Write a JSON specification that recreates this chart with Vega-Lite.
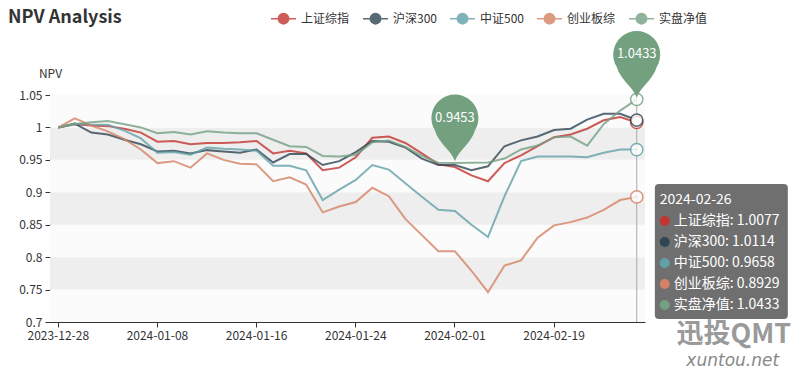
{
  "$schema": "https://vega.github.io/schema/vega-lite/v6.json",
  "autosize": {"type": "none"},
  "width": 595,
  "height": 227,
  "padding": {"left": 50, "top": 95, "right": 159, "bottom": 57},
  "background": "white",
  "config": {
    "font": "Noto Sans CJK SC",
    "view": {"stroke": null},
    "axisX": {"labelAngle": 0, "labelAlign": "center", "labelBaseline": "top", "tickOffset": -8.265, "title": null, "tickSize": 5, "labelPadding": 3, "labelOverlap": false, "labelFlush": false, "domainColor": "#333333", "tickColor": "#333333", "labelColor": "#333333", "labelFontSize": 12, "grid": false},
    "axisY": {"labelAngle": 0, "labelAlign": "right", "labelBaseline": "middle", "tickSize": 5, "labelPadding": 3, "labelOverlap": false, "labelFlush": false, "domainColor": "#333333", "tickColor": "#333333", "labelColor": "#333333", "labelFontSize": 12, "grid": false}
  },
  "title": {"text": "NPV Analysis", "anchor": "start", "frame": "group", "fontSize": 18, "fontWeight": "bold", "color": "#333333", "font": "Noto Sans CJK SC", "dx": -42, "dy": 26},
  "datasets": {
    "npv": [
      {"date": "2023-12-28", "上证综指": 1, "沪深300": 1, "中证500": 1, "创业板综": 1, "实盘净值": 1},
      {"date": "2023-12-29", "上证综指": 1.005, "沪深300": 1.006, "中证500": 1.006, "创业板综": 1.014, "实盘净值": 1.005},
      {"date": "2024-01-02", "上证综指": 1.003, "沪深300": 0.992, "中证500": 1.004, "创业板综": 1.003, "实盘净值": 1.008},
      {"date": "2024-01-03", "上证综指": 1.002, "沪深300": 0.989, "中证500": 1.004, "创业板综": 0.994, "实盘净值": 1.010},
      {"date": "2024-01-04", "上证综指": 0.998, "沪深300": 0.981, "中证500": 0.995, "创业板综": 0.982, "实盘净值": 1.005},
      {"date": "2024-01-05", "上证综指": 0.992, "沪深300": 0.974, "中证500": 0.983, "创业板综": 0.966, "实盘净值": 1.000},
      {"date": "2024-01-08", "上证综指": 0.978, "沪深300": 0.963, "中证500": 0.961, "创业板综": 0.945, "实盘净值": 0.991},
      {"date": "2024-01-09", "上证综指": 0.979, "沪深300": 0.964, "中证500": 0.962, "创业板综": 0.948, "实盘净值": 0.993},
      {"date": "2024-01-10", "上证综指": 0.974, "沪深300": 0.960, "中证500": 0.958, "创业板综": 0.938, "实盘净值": 0.989},
      {"date": "2024-01-11", "上证综指": 0.976, "沪深300": 0.965, "中证500": 0.969, "创业板综": 0.960, "实盘净值": 0.994},
      {"date": "2024-01-12", "上证综指": 0.976, "沪深300": 0.963, "中证500": 0.967, "创业板综": 0.950, "实盘净值": 0.992},
      {"date": "2024-01-15", "上证综指": 0.977, "沪深300": 0.961, "中证500": 0.966, "创业板综": 0.944, "实盘净值": 0.991},
      {"date": "2024-01-16", "上证综指": 0.979, "沪深300": 0.966, "中证500": 0.964, "创业板综": 0.943, "实盘净值": 0.991},
      {"date": "2024-01-17", "上证综指": 0.960, "沪深300": 0.946, "中证500": 0.941, "创业板综": 0.917, "实盘净值": 0.981},
      {"date": "2024-01-18", "上证综指": 0.964, "沪深300": 0.959, "中证500": 0.941, "创业板综": 0.923, "实盘净值": 0.971},
      {"date": "2024-01-19", "上证综指": 0.960, "沪深300": 0.959, "中证500": 0.934, "创业板综": 0.912, "实盘净值": 0.970},
      {"date": "2024-01-22", "上证综指": 0.934, "沪深300": 0.942, "中证500": 0.888, "创业板综": 0.869, "实盘净值": 0.956},
      {"date": "2024-01-23", "上证综指": 0.938, "沪深300": 0.948, "中证500": 0.904, "创业板综": 0.878, "实盘净值": 0.955},
      {"date": "2024-01-24", "上证综指": 0.954, "沪深300": 0.962, "中证500": 0.919, "创业板综": 0.885, "实盘净值": 0.958},
      {"date": "2024-01-25", "上证综指": 0.984, "沪深300": 0.979, "中证500": 0.942, "创业板综": 0.907, "实盘净值": 0.977},
      {"date": "2024-01-26", "上证综指": 0.986, "沪深300": 0.978, "中证500": 0.935, "创业板综": 0.894, "实盘净值": 0.980},
      {"date": "2024-01-29", "上证综指": 0.976, "沪深300": 0.969, "中证500": 0.914, "创业板综": 0.859, "实盘净值": 0.970},
      {"date": "2024-01-30", "上证综指": 0.960, "沪深300": 0.952, "中证500": 0.893, "创业板综": 0.834, "实盘净值": 0.956},
      {"date": "2024-01-31", "上证综指": 0.943, "沪深300": 0.942, "中证500": 0.873, "创业板综": 0.809, "实盘净值": 0.9455},
      {"date": "2024-02-01", "上证综指": 0.939, "沪深300": 0.942, "中证500": 0.871, "创业板综": 0.809, "实盘净值": 0.9453},
      {"date": "2024-02-02", "上证综指": 0.926, "沪深300": 0.934, "中证500": 0.850, "创业板综": 0.779, "实盘净值": 0.9455},
      {"date": "2024-02-05", "上证综指": 0.917, "沪深300": 0.940, "中证500": 0.831, "创业板综": 0.746, "实盘净值": 0.9458},
      {"date": "2024-02-06", "上证综指": 0.945, "沪深300": 0.971, "中证500": 0.894, "创业板综": 0.787, "实盘净值": 0.952},
      {"date": "2024-02-07", "上证综指": 0.957, "沪深300": 0.980, "中证500": 0.948, "创业板综": 0.795, "实盘净值": 0.966},
      {"date": "2024-02-08", "上证综指": 0.971, "沪深300": 0.986, "中证500": 0.955, "创业板综": 0.830, "实盘净值": 0.972},
      {"date": "2024-02-19", "上证综指": 0.985, "沪深300": 0.996, "中证500": 0.955, "创业板综": 0.849, "实盘净值": 0.985},
      {"date": "2024-02-20", "上证综指": 0.989, "沪深300": 0.998, "中证500": 0.955, "创业板综": 0.854, "实盘净值": 0.986},
      {"date": "2024-02-21", "上证综指": 0.998, "沪深300": 1.012, "中证500": 0.954, "创业板综": 0.861, "实盘净值": 0.972},
      {"date": "2024-02-22", "上证综指": 1.011, "沪深300": 1.021, "中证500": 0.961, "创业板综": 0.873, "实盘净值": 1.005},
      {"date": "2024-02-23", "上证综指": 1.016, "沪深300": 1.021, "中证500": 0.966, "创业板综": 0.888, "实盘净值": 1.026},
      {"date": "2024-02-26", "上证综指": 1.0077, "沪深300": 1.0114, "中证500": 0.9658, "创业板综": 0.8929, "实盘净值": 1.0433}
    ],
    "bands": [
      {"lo": 0.7, "hi": 0.75, "shade": "light"},
      {"lo": 0.75, "hi": 0.8, "shade": "dark"},
      {"lo": 0.8, "hi": 0.85, "shade": "light"},
      {"lo": 0.85, "hi": 0.9, "shade": "dark"},
      {"lo": 0.9, "hi": 0.95, "shade": "light"},
      {"lo": 0.95, "hi": 1.0, "shade": "dark"},
      {"lo": 1.0, "hi": 1.05, "shade": "light"}
    ],
    "tipHead": [{"date": "2024-02-26"}]
  },
  "layer": [
    {
      "layer": [
        {
          "data": {"name": "bands"},
          "mark": {"type": "rect"},
          "encoding": {
            "y": {"field": "lo", "type": "quantitative",
              "scale": {"domain": [0.7, 1.05], "nice": false, "zero": false},
              "axis": {"title": "NPV", "titleAngle": 0, "titleX": 0, "titleY": -22, "titleAlign": "center", "titleBaseline": "middle", "titleFontWeight": "normal", "titleFontSize": 12, "titleColor": "#333333",
                "values": [0.7, 0.75, 0.8, 0.85, 0.9, 0.95, 1.0, 1.05], "format": ".3~g"}},
            "y2": {"field": "hi"},
            "fill": {"condition": {"test": "datum.shade == 'dark'", "value": "#eeeeee"}, "value": "#fbfbfb"}
          }
        },
        {
          "data": {"name": "tipHead"},
          "mark": {"type": "rule", "color": "#aaaaaa", "strokeWidth": 1},
          "encoding": {
            "x": {"field": "date", "type": "ordinal",
              "axis": {"values": ["2023-12-28", "2024-01-08", "2024-01-16", "2024-01-24", "2024-02-01", "2024-02-19"]}}
          }
        },
        {
          "data": {"name": "npv"},
          "transform": [{"fold": ["上证综指", "沪深300", "中证500", "创业板综", "实盘净值"], "as": ["series", "value"]}],
          "mark": {"type": "line", "strokeWidth": 2, "strokeOpacity": 0.8},
          "encoding": {
            "x": {"field": "date", "type": "ordinal",
              "scale": {"type": "band", "paddingInner": 0, "paddingOuter": 0},
              "axis": {"values": ["2023-12-28", "2024-01-08", "2024-01-16", "2024-01-24", "2024-02-01", "2024-02-19"]}},
            "y": {"field": "value", "type": "quantitative",
              "axis": {"title": "NPV", "titleAngle": 0, "titleX": 0, "titleY": -22, "titleAlign": "center", "titleBaseline": "middle", "titleFontWeight": "normal", "titleFontSize": 12, "titleColor": "#333333",
                "values": [0.7, 0.75, 0.8, 0.85, 0.9, 0.95, 1.0, 1.05], "format": ".3~g"}},
            "color": {"field": "series", "type": "nominal",
              "scale": {"domain": ["上证综指", "沪深300", "中证500", "创业板综", "实盘净值"], "range": ["#c23531", "#2f4554", "#61a0a8", "#d48265", "#749f83"]},
              "legend": {"orient": "none", "legendX": 220, "legendY": -90, "direction": "horizontal", "title": null,
                "symbolType": "M-1,0H-0.42M0.42,0H1M0.42,0A0.42,0.42,0,1,1,-0.42,0A0.42,0.42,0,1,1,0.42,0",
                "symbolSize": 625, "symbolStrokeWidth": 1.5, "symbolFillColor": "white", "symbolOpacity": 0.8,
                "labelFontSize": 12, "labelColor": "#333333", "columnPadding": 10, "labelOffset": 4,
                "encode": {"symbols": {"update": {"fill": {"value": "white"}, "fillOpacity": {"value": 1}}}}}},
            "order": {"field": "series"}
          }
        },
        {
          "data": {"name": "npv"},
          "transform": [
            {"fold": ["上证综指", "沪深300", "中证500", "创业板综", "实盘净值"], "as": ["series", "value"]},
            {"filter": "datum.date == '2024-02-26'"}
          ],
          "mark": {"type": "point", "shape": "circle", "filled": false, "fill": "white", "fillOpacity": 1, "size": 150, "strokeWidth": 1.5, "opacity": 0.8},
          "encoding": {
            "x": {"field": "date", "type": "ordinal",
              "axis": {"values": ["2023-12-28", "2024-01-08", "2024-01-16", "2024-01-24", "2024-02-01", "2024-02-19"]}},
            "y": {"field": "value", "type": "quantitative",
              "axis": {"title": "NPV", "values": [0.7, 0.75, 0.8, 0.85, 0.9, 0.95, 1.0, 1.05], "format": ".3~g"}},
            "color": {"field": "series", "type": "nominal"}
          }
        },
        {
          "data": {"name": "npv"},
          "transform": [
            {"fold": ["实盘净值"], "as": ["series", "value"]},
            {"joinaggregate": [{"op": "min", "field": "value", "as": "vmin"}, {"op": "max", "field": "value", "as": "vmax"}]},
            {"filter": "datum.value == datum.vmin || datum.value == datum.vmax"}
          ],
          "layer": [
            {
              "mark": {"type": "point", "shape": "M0,1C-0.1,0.7,-0.5,0.45,-0.6,0.08A0.707,0.707,0,1,1,0.6,0.08C0.5,0.45,0.1,0.7,0,1Z",
                "size": 4422, "filled": true, "fill": "#73a07f", "fillOpacity": 1, "strokeWidth": 0, "yOffset": -35},
              "encoding": {
                "x": {"field": "date", "type": "ordinal",
                  "axis": {"values": ["2023-12-28", "2024-01-08", "2024-01-16", "2024-01-24", "2024-02-01", "2024-02-19"]}},
                "y": {"field": "value", "type": "quantitative",
                  "axis": {"title": "NPV", "values": [0.7, 0.75, 0.8, 0.85, 0.9, 0.95, 1.0, 1.05], "format": ".3~g"}}
              }
            },
            {
              "mark": {"type": "text", "color": "white", "fontSize": 13, "baseline": "middle", "align": "center", "yOffset": -45},
              "encoding": {
                "x": {"field": "date", "type": "ordinal",
                  "axis": {"values": ["2023-12-28", "2024-01-08", "2024-01-16", "2024-01-24", "2024-02-01", "2024-02-19"]}},
                "y": {"field": "value", "type": "quantitative",
                  "axis": {"title": "NPV", "values": [0.7, 0.75, 0.8, 0.85, 0.9, 0.95, 1.0, 1.05], "format": ".3~g"}},
                "text": {"field": "value", "type": "quantitative", "format": ".4f"}
              }
            }
          ]
        }
      ]
    },
    {
      "layer": [
        {
          "data": {"name": "tipHead"},
          "mark": {"type": "point", "shape": "M-0.925,-1H0.925Q0.985,-1,0.985,-0.94V0.94Q0.985,1,0.925,1H-0.925Q-0.985,1,-0.985,0.94V-0.94Q-0.985,-1,-0.925,-1Z",
            "size": 18225, "filled": true, "fill": "#6f6f6f", "fillOpacity": 1, "strokeWidth": 0, "xOffset": 84.6, "yOffset": 9.5},
          "encoding": {
            "x": {"field": "date", "type": "ordinal",
              "axis": {"values": ["2023-12-28", "2024-01-08", "2024-01-16", "2024-01-24", "2024-02-01", "2024-02-19"]}},
            "y": {"datum": "沪深300", "type": "nominal",
              "scale": {"type": "point", "domain": ["head", "上证综指", "沪深300", "中证500", "创业板综", "实盘净值"], "range": [105, 210], "padding": 0},
              "axis": null}
          }
        },
        {
          "data": {"name": "tipHead"},
          "mark": {"type": "text", "color": "white", "fontSize": 14, "align": "left", "baseline": "middle", "xOffset": 23},
          "encoding": {
            "x": {"field": "date", "type": "ordinal",
              "axis": {"values": ["2023-12-28", "2024-01-08", "2024-01-16", "2024-01-24", "2024-02-01", "2024-02-19"]}},
            "y": {"datum": "head", "type": "nominal", "axis": null},
            "text": {"field": "date", "type": "nominal"}
          }
        },
        {
          "data": {"name": "npv"},
          "transform": [
            {"fold": ["上证综指", "沪深300", "中证500", "创业板综", "实盘净值"], "as": ["series", "value"]},
            {"filter": "datum.date == '2024-02-26'"},
            {"calculate": "datum.series + ': ' + format(datum.value, '.4f')", "as": "label"}
          ],
          "layer": [
            {
              "mark": {"type": "point", "shape": "circle", "filled": true, "size": 100, "opacity": 1, "xOffset": 28},
              "encoding": {
                "x": {"field": "date", "type": "ordinal",
                  "axis": {"values": ["2023-12-28", "2024-01-08", "2024-01-16", "2024-01-24", "2024-02-01", "2024-02-19"]}},
                "y": {"field": "series", "type": "nominal", "axis": null},
                "color": {"field": "series", "type": "nominal"}
              }
            },
            {
              "mark": {"type": "text", "color": "white", "fontSize": 14, "align": "left", "baseline": "middle", "xOffset": 37},
              "encoding": {
                "x": {"field": "date", "type": "ordinal",
                  "axis": {"values": ["2023-12-28", "2024-01-08", "2024-01-16", "2024-01-24", "2024-02-01", "2024-02-19"]}},
                "y": {"field": "series", "type": "nominal", "axis": null},
                "text": {"field": "label", "type": "nominal"}
              }
            }
          ]
        },
        {
          "data": {"name": "tipHead"},
          "mark": {"type": "text", "color": "#9a9a9a", "fontSize": 27, "fontWeight": "bold", "align": "center", "baseline": "middle", "xOffset": 97, "yOffset": 30},
          "encoding": {
            "x": {"field": "date", "type": "ordinal",
              "axis": {"values": ["2023-12-28", "2024-01-08", "2024-01-16", "2024-01-24", "2024-02-01", "2024-02-19"]}},
            "y": {"datum": "实盘净值", "type": "nominal", "axis": null},
            "text": {"value": "迅投QMT"}
          }
        },
        {
          "data": {"name": "tipHead"},
          "mark": {"type": "text", "color": "#888888", "fontSize": 17, "fontStyle": "italic", "font": "DejaVu Sans", "align": "center", "baseline": "middle", "xOffset": 96, "yOffset": 56},
          "encoding": {
            "x": {"field": "date", "type": "ordinal",
              "axis": {"values": ["2023-12-28", "2024-01-08", "2024-01-16", "2024-01-24", "2024-02-01", "2024-02-19"]}},
            "y": {"datum": "实盘净值", "type": "nominal", "axis": null},
            "text": {"value": "xuntou.net"}
          }
        }
      ]
    }
  ],
  "resolve": {"scale": {"y": "independent"}}
}
